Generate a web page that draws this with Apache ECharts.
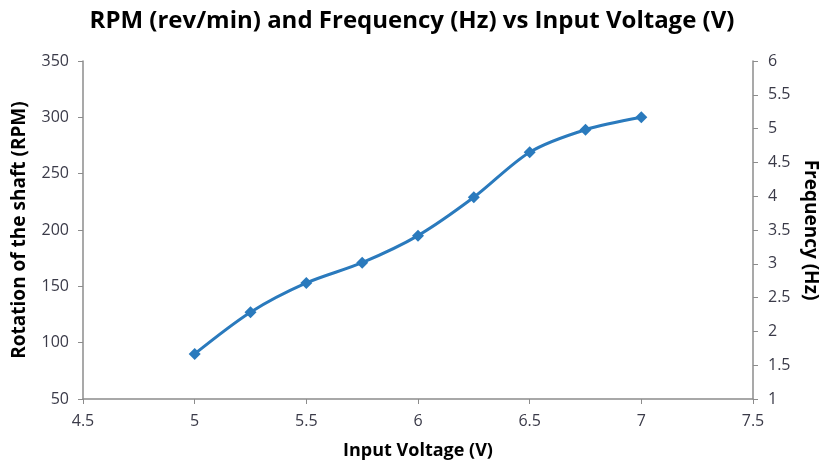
<!DOCTYPE html>
<html><head><meta charset="utf-8">
<script src="https://cdn.jsdelivr.net/npm/echarts@6/dist/echarts.min.js"></script>
<style>html,body{margin:0;padding:0;background:#fff}#c{width:824px;height:465px}</style>
</head><body><div id="c"></div>
<script>
const voltage = [5, 5.25, 5.5, 5.75, 6, 6.25, 6.5, 6.75, 7];
const rpm = [90, 127, 153, 171, 195, 229, 269, 289, 300];
const xTicks = {min: 4.5, max: 7.5, interval: 0.5};
const leftTicks = {min: 50, max: 350, interval: 50};
const rightTicks = {min: 1, max: 6, interval: 0.5};

const font = '"Open Sans", sans-serif';
const axisLine = {show: true, lineStyle: {color: '#8c8c8c', width: 1.5}};
const labelStyle = {color: '#3a3a48', fontSize: 16, fontFamily: font};
const nameStyle = {color: '#000', fontSize: 19, fontWeight: 'bold', fontFamily: font};

const chart = echarts.init(document.getElementById('c'), null, {renderer: 'canvas'});
chart.setOption({
  animation: false,
  title: {
    text: 'RPM (rev/min) and Frequency (Hz) vs Input Voltage (V)',
    left: 'center', top: 4,
    textStyle: {fontSize: 24, fontWeight: 'bold', color: '#000', fontFamily: font}
  },
  grid: {left: 83, right: 71, top: 61, bottom: 66, containLabel: false, outerBoundsMode: 'none'},
  xAxis: {
    type: 'value', min: xTicks.min, max: xTicks.max, interval: xTicks.interval,
    name: 'Input Voltage (V)', nameLocation: 'middle', nameGap: 43,
    nameTextStyle: Object.assign({}, nameStyle, {fontSize: 18}),
    axisLine: axisLine, axisTick: {show: true, length: 5, lineStyle: {color: '#8c8c8c'}},
    splitLine: {show: false}, axisLabel: Object.assign({margin: 14}, labelStyle)
  },
  yAxis: [{
    type: 'value', min: leftTicks.min, max: leftTicks.max, interval: leftTicks.interval,
    name: 'Rotation of the shaft (RPM)', nameLocation: 'middle', nameGap: 54, nameTextStyle: nameStyle,
    axisLine: axisLine, axisTick: {show: true, length: 5, lineStyle: {color: '#8c8c8c'}},
    splitLine: {show: false}, axisLabel: Object.assign({margin: 14}, labelStyle)
  }, {
    type: 'value', position: 'right', min: rightTicks.min, max: rightTicks.max, interval: rightTicks.interval,
    name: 'Frequency (Hz)', nameLocation: 'middle', nameGap: 48, nameRotate: -90, nameTextStyle: nameStyle,
    axisLine: axisLine, axisTick: {show: true, length: 5, lineStyle: {color: '#8c8c8c'}},
    splitLine: {show: false}, axisLabel: Object.assign({margin: 15}, labelStyle)
  }],
  series: [{
    type: 'line', yAxisIndex: 0,
    data: voltage.map((v, i) => [v, rpm[i]]),
    smooth: 0.3,
    symbol: 'diamond', symbolSize: 12,
    lineStyle: {color: '#2a7abd', width: 3},
    itemStyle: {color: '#2a7abd'}
  }]
});
</script></body></html>
